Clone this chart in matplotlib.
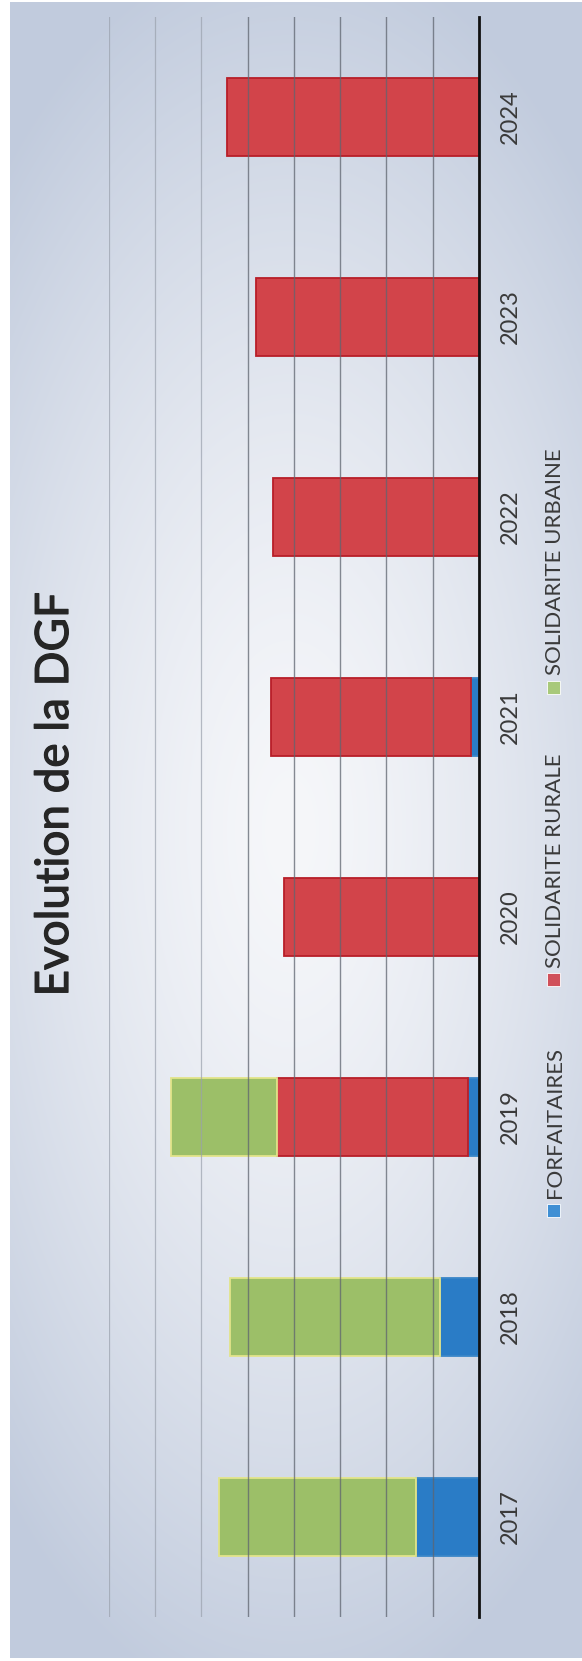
import numpy as np
import matplotlib
matplotlib.use("Agg")
import matplotlib.pyplot as plt
import matplotlib.patheffects as pe
from matplotlib.patches import Rectangle

plt.rcParams['font.family'] = ['Lato', 'DejaVu Sans']

# DGF components per year (chart units)
years = ['2017', '2018', '2019', '2020', '2021', '2022', '2023', '2024']
forfaitaires = [1.36, 0.84, 0.23, 0.0, 0.17, 0.0, 0.0, 0.0]
solidarite_rurale = [0.0, 0.0, 4.14, 4.21, 4.32, 4.45, 4.82, 5.44]
solidarite_urbaine = [4.25, 4.53, 2.29, 0.0, 0.0, 0.0, 0.0, 0.0]
series_names = ['FORFAITAIRES', 'SOLIDARITE RURALE', 'SOLIDARITE URBAINE']
value_ticks = list(range(9))

fill_colors = ['#2a7cc6', '#d2444a', '#9cbf68']
edge_colors = ['#3a86c8', '#b81e28', '#e2e48a']
legend_colors = ['#3f8fd4', '#d0505a', '#a8c97a']

W, H = 582, 1661
fig = plt.figure(figsize=(W / 100, H / 100), dpi=100, facecolor='white')

# slide background with a soft radial gradient
bg = fig.add_axes([0, 0, 1, 1], zorder=-5)
bg.set_xlim(0, W)
bg.set_ylim(H, 0)
bg.axis('off')
x0, x1, y0, y1 = 10, W, 2, H - 3
xx, yy = np.meshgrid(np.arange(x0, x1), np.arange(y0, y1))
r = np.sqrt(((xx - 290) / 430.0) ** 2 + ((yy - 830) / 900.0) ** 2)
t = np.clip(r, 0, 1) ** 1.4
c_in = np.array([246, 247, 250]) / 255.0
c_out = np.array([193, 203, 221]) / 255.0
img = c_in[None, None, :] * (1 - t[..., None]) + c_out[None, None, :] * t[..., None]
bg.imshow(img, extent=(x0, x1, y1, y0), aspect='auto', interpolation='bilinear')

# rotated chart: value axis runs leftwards, years run upwards
ax = fig.add_axes([108.6 / W, (H - 1617) / H, (479 - 108.6) / W, 1600 / H])
ax.set_facecolor('none')
ypos = np.arange(len(years))
bar_h = 0.39

def draw_series(values, lefts, fc, ec, lw):
    idx = [i for i, v in enumerate(values) if v > 0]
    ax.barh([ypos[i] for i in idx], [values[i] for i in idx], height=bar_h,
            left=[lefts[i] for i in idx], color=fc, edgecolor=ec,
            linewidth=lw, zorder=2)

base = np.zeros(len(years))
for vals, fc, ec in zip([forfaitaires, solidarite_rurale, solidarite_urbaine],
                        fill_colors, edge_colors):
    draw_series(vals, base.copy(), fc, ec, 1.3)
    base = base + np.array(vals)

ax.set_xlim(value_ticks[-1], 0)
ax.set_ylim(-0.5, len(years) - 0.5)
ax.set_xticks(value_ticks)
ax.tick_params(axis='x', length=0, labelbottom=False)
ax.grid(axis='x', zorder=3)
ax.set_axisbelow(False)
for v, gl in zip(value_ticks, ax.get_xgridlines()):
    if v == 0:
        gl.set_visible(False)
    elif v <= 5:
        gl.set_color('#5f6570')
        gl.set_alpha(0.75)
        gl.set_linewidth(1.0)
    else:
        gl.set_color('#9aa1ad')
        gl.set_alpha(0.7)
        gl.set_linewidth(0.9)

for side in ['left', 'top', 'bottom']:
    ax.spines[side].set_visible(False)
ax.spines['right'].set_color('#111111')
ax.spines['right'].set_linewidth(2.0)
ax.spines['right'].set_zorder(4)

ax.yaxis.tick_right()
ax.set_yticks(ypos)
ax.set_yticklabels(years, rotation=90, va='center', fontsize=17, color='#3a3a3a')
ax.tick_params(axis='y', length=0, pad=15)

# title
fig.text(55 / W, 1 - 794 / H, 'Evolution de la DGF', rotation=90,
         ha='center', va='center', fontsize=33, color='#262626',
         path_effects=[pe.withStroke(linewidth=0.9, foreground='#262626')])

# legend, laid out along the right edge
sq_centers = [1210, 980, 687]
sq = 13
for name, col, yc in zip(series_names, legend_colors, sq_centers):
    fig.patches.append(Rectangle(((553.5 - sq / 2) / W, 1 - (yc + sq / 2) / H),
                                 sq / W, sq / H, transform=fig.transFigure,
                                 facecolor=col, edgecolor='#ffffff',
                                 linewidth=0.6, zorder=5))
    fig.text(555 / W, 1 - (yc - 12) / H, name, rotation=90, ha='center',
             va='bottom', fontsize=16, color='#3a3a3a')

fig.savefig('out.png', dpi=100)
